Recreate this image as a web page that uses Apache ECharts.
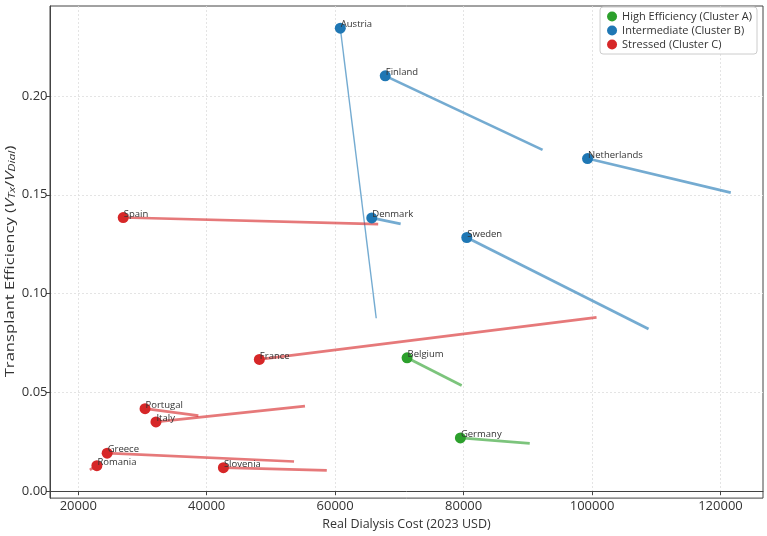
<!DOCTYPE html>
<html>
<head>
<meta charset="utf-8">
<script src="https://cdn.jsdelivr.net/npm/echarts@6/dist/echarts.min.js"></script>
<style>
html,body{margin:0;padding:0;background:#fff;}
#chart{width:767px;height:536px;}
</style>
</head>
<body>
<div id="chart"></div>
<script>
const countries = ['Austria','Finland','Netherlands','Denmark','Sweden','Belgium','Germany','France','Spain','Portugal','Italy','Greece','Romania','Slovenia'];
const clusters  = ['B','B','B','B','B','A','A','C','C','C','C','C','C','C'];
const cost      = [60800, 67800, 99300, 65700, 80500, 71200, 79500, 48200, 27000, 30400, 32100, 24500, 22900, 42600];
const eff       = [0.2342, 0.2101, 0.1683, 0.1383, 0.1284, 0.0676, 0.0271, 0.0668, 0.1385, 0.0419, 0.0352, 0.0194, 0.0131, 0.0121];
const costEnd   = [66400, 92300, 121600, 70200, 108800, 79700, 90300, 100700, 66700, 38700, 55300, 53600, 21800, 58700];
const effEnd    = [0.0876, 0.1727, 0.1511, 0.1353, 0.0822, 0.0536, 0.0244, 0.0880, 0.1352, 0.0384, 0.0432, 0.0152, 0.0110, 0.0107];
const xTicks = [20000, 40000, 60000, 80000, 100000, 120000];
const yTicks = [0, 0.05, 0.10, 0.15, 0.20];
const xRange = [15600, 126620];
const yRange = [-0.0033, 0.2454];
const xTitle = 'Real Dialysis Cost (2023 USD)';
const yTitle = 'Transplant Efficiency ({i|V}{sub|Tx}{n|/}{i|V}{sub|Dial}{n|)}';
const clusterNames = {A: 'High Efficiency (Cluster A)', B: 'Intermediate (Cluster B)', C: 'Stressed (Cluster C)'};
const clusterOrder = ['A', 'B', 'C'];

const colors = {A: '#2ca02c', B: '#1f77b4', C: '#d62728'};
const lineColors = {A: 'rgba(44,160,44,0.62)', B: 'rgba(31,119,180,0.62)', C: 'rgba(214,39,40,0.62)'};
const thinLine = {Austria: true};
const FONT = '"Open Sans", "Noto Sans", sans-serif';

const series = [];
clusterOrder.forEach(c => {
  const segs = [];
  countries.forEach((n, i) => {
    if (clusters[i] !== c) return;
    segs.push({
      coords: [[cost[i], eff[i]], [costEnd[i], effEnd[i]]],
      lineStyle: {width: thinLine[n] ? 1.4 : 2.7}
    });
  });
  series.push({
    type: 'lines',
    coordinateSystem: 'cartesian2d',
    silent: true,
    z: 2,
    lineStyle: {color: lineColors[c], opacity: 1, curveness: 0},
    data: segs
  });
});
clusterOrder.forEach(c => {
  const pts = [];
  countries.forEach((n, i) => {
    if (clusters[i] === c) pts.push({name: n, value: [cost[i], eff[i]]});
  });
  series.push({
    type: 'scatter',
    name: clusterNames[c],
    z: 5,
    symbol: 'circle',
    symbolSize: 11,
    itemStyle: {color: colors[c], opacity: 1},
    label: {
      show: true,
      formatter: '{b}',
      position: [6, 7],
      align: 'left',
      verticalAlign: 'bottom',
      fontSize: 9.5,
      fontFamily: FONT,
      color: '#333'
    },
    emphasis: {disabled: true},
    data: pts
  });
});

const GRID = {left: 50, right: 4, top: 6, bottom: 31};
const chart = echarts.init(document.getElementById('chart'), null, {renderer: 'canvas'});
chart.setOption({
  animation: false,
  backgroundColor: '#fff',
  textStyle: {fontFamily: FONT},
  grid: Object.assign({show: true, borderColor: '#444', borderWidth: 1, backgroundColor: 'transparent'}, GRID),
  graphic: [{
    type: 'text',
    x: 10,
    y: GRID.top + (536 - GRID.top - GRID.bottom) / 2 + 6,
    rotation: Math.PI / 2,
    scaleX: 1.28,
    silent: true,
    style: {
      text: yTitle,
      fontSize: 13,
      fontFamily: FONT,
      fill: '#333',
      align: 'center',
      verticalAlign: 'middle',
      rich: {
        i: {fontSize: 13, fontStyle: 'italic', fill: '#333', fontFamily: FONT},
        sub: {fontSize: 9.5, fontStyle: 'italic', fill: '#333', fontFamily: FONT, verticalAlign: 'bottom', padding: [5, 0, 0, 0]},
        n: {fontSize: 13, fill: '#333', fontFamily: FONT}
      }
    }
  }],
  legend: {
    orient: 'vertical',
    right: 10,
    top: 7,
    data: clusterOrder.map(c => clusterNames[c]),
    icon: 'circle',
    itemWidth: 10,
    itemHeight: 10,
    itemGap: 3,
    padding: [4, 5, 4, 7],
    borderColor: '#ccc',
    borderWidth: 1,
    borderRadius: 3,
    backgroundColor: 'rgba(255,255,255,0.85)',
    textStyle: {fontSize: 11, color: '#333', fontFamily: FONT}
  },
  xAxis: {
    type: 'value',
    min: xRange[0],
    max: xRange[1],
    name: xTitle,
    nameLocation: 'middle',
    nameGap: 16,
    nameTextStyle: {fontSize: 12.5, color: '#333', fontFamily: FONT},
    axisLine: {show: true, lineStyle: {color: '#444'}},
    axisTick: {show: true, inside: false, length: 3.5, lineStyle: {color: '#444'}, customValues: xTicks},
    axisLabel: {fontSize: 13, color: '#333', margin: 2, fontFamily: FONT, customValues: xTicks, formatter: v => String(v)},
    splitLine: {show: true, lineStyle: {color: '#ddd', type: [2, 2], width: 0.8}}
  },
  yAxis: {
    type: 'value',
    min: yRange[0],
    max: yRange[1],
    axisLine: {show: true, lineStyle: {color: '#444'}},
    axisTick: {show: true, inside: false, length: 4, lineStyle: {color: '#444'}, customValues: yTicks},
    axisLabel: {fontSize: 13, color: '#333', margin: 2.5, fontFamily: FONT, customValues: yTicks, formatter: v => v.toFixed(2)},
    splitLine: {show: true, lineStyle: {color: '#ddd', type: [2, 2], width: 0.8}}
  },
  series: series
});
</script>
</body>
</html>
